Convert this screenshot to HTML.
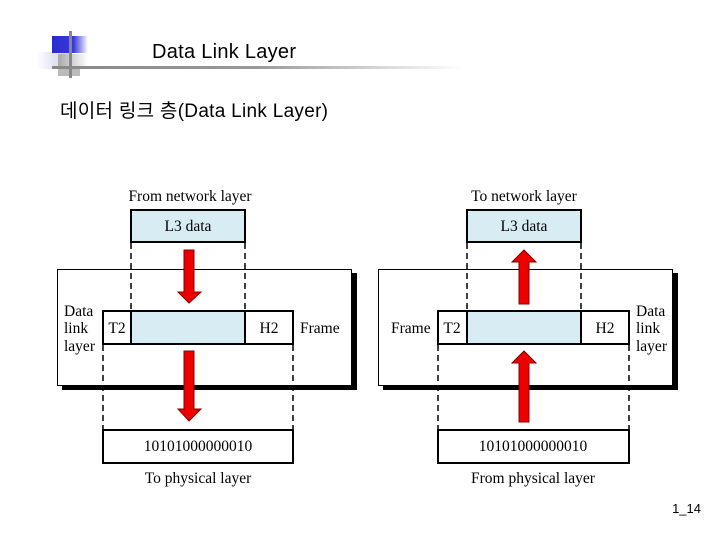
<!DOCTYPE html>
<html><head><meta charset="utf-8"><style>
html,body{margin:0;padding:0;background:#fff;width:720px;height:540px;overflow:hidden}
svg{display:block}
</style></head><body>
<svg width="720" height="540" xmlns="http://www.w3.org/2000/svg">
<defs>
<linearGradient id="gb" x1="0" x2="1"><stop offset="0" stop-color="#2a2ad0"/><stop offset="0.6" stop-color="#3a3ad8"/><stop offset="1" stop-color="#fff"/></linearGradient>
<linearGradient id="gl" x1="0" x2="1"><stop offset="0" stop-color="#fff"/><stop offset="1" stop-color="#c8c8ee"/></linearGradient>
<linearGradient id="gg" x1="0" x2="1"><stop offset="0" stop-color="#888"/><stop offset="0.5" stop-color="#999"/><stop offset="1" stop-color="#fff"/></linearGradient>
<linearGradient id="gs" x1="0" x2="1"><stop offset="0" stop-color="#aaa"/><stop offset="1" stop-color="#fff"/></linearGradient>
</defs>
<rect x="36" y="52" width="36" height="17" fill="url(#gl)"/>
<rect x="52" y="36" width="36" height="17" fill="url(#gb)"/>
<rect x="58" y="54" width="30" height="14" fill="url(#gs)"/>
<rect x="58" y="66" width="22" height="10" fill="#bbb"/>
<rect x="69" y="31" width="3" height="47" fill="#888"/>
<rect x="52" y="66" width="410" height="3" fill="url(#gg)"/>
<text x="152" y="58" font-family="Liberation Sans, sans-serif" font-size="20" fill="#000" textLength="144">Data Link Layer</text>
<text x="60" y="117" font-family="Liberation Sans, 'Noto Sans CJK KR', sans-serif" font-size="19" fill="#000" textLength="268">데이터 링크 층(Data Link Layer)</text>
<text x="701" y="513" text-anchor="end" font-family="Liberation Sans, sans-serif" font-size="13">1_14</text>

<g font-family="Liberation Serif, serif" font-size="15.5" fill="#000">
<rect x="62" y="273" width="295" height="117" fill="#000"/>
<rect x="57.5" y="269.5" width="294" height="116" fill="#fff" stroke="#000" stroke-width="1"/>
<text x="190" y="201" text-anchor="middle">From network layer</text>
<rect x="131" y="210" width="114" height="32" fill="#d8ecf3" stroke="#000" stroke-width="2"/>
<text x="188" y="231" text-anchor="middle">L3 data</text>
<g stroke="#000" stroke-width="1.5" stroke-dasharray="6,4">
<line x1="131" y1="243" x2="131" y2="311"/><line x1="245" y1="243" x2="245" y2="311"/>
<line x1="103" y1="345" x2="103" y2="430"/><line x1="293" y1="345" x2="293" y2="430"/>
</g>
<rect x="103" y="311" width="190" height="33" fill="#fff" stroke="#000" stroke-width="2"/>
<rect x="131" y="311" width="114" height="33" fill="#d8ecf3" stroke="#000" stroke-width="2"/>
<text x="117" y="333" text-anchor="middle">T2</text>
<text x="269" y="333" text-anchor="middle">H2</text>
<text x="300" y="333">Frame</text>
<text x="64" y="316">Data</text><text x="64" y="333">link</text><text x="64" y="351">layer</text>
<polygon points="184,250 194,250 194,292 201,292 189,303 178,292 184,292" fill="#e00" stroke="#800" stroke-width="1"/>
<polygon points="184,351 194,351 194,409 201,409 189,421 178,409 184,409" fill="#e00" stroke="#800" stroke-width="1"/>
<rect x="103" y="430" width="190" height="33" fill="#fff" stroke="#000" stroke-width="2"/>
<text x="198" y="451" text-anchor="middle">10101000000010</text>
<text x="198" y="483" text-anchor="middle">To physical layer</text>

<rect x="383" y="273" width="295" height="117" fill="#000"/>
<rect x="378.5" y="269.5" width="294" height="116" fill="#fff" stroke="#000" stroke-width="1"/>
<text x="524" y="201" text-anchor="middle">To network layer</text>
<rect x="467" y="210" width="114" height="32" fill="#d8ecf3" stroke="#000" stroke-width="2"/>
<text x="524" y="231" text-anchor="middle">L3 data</text>
<g stroke="#000" stroke-width="1.5" stroke-dasharray="6,4">
<line x1="467" y1="243" x2="467" y2="311"/><line x1="581" y1="243" x2="581" y2="311"/>
<line x1="438" y1="345" x2="438" y2="430"/><line x1="629" y1="345" x2="629" y2="430"/>
</g>
<rect x="438" y="311" width="191" height="33" fill="#fff" stroke="#000" stroke-width="2"/>
<rect x="467" y="311" width="114" height="33" fill="#d8ecf3" stroke="#000" stroke-width="2"/>
<text x="452" y="333" text-anchor="middle">T2</text>
<text x="605" y="333" text-anchor="middle">H2</text>
<text x="391" y="333">Frame</text>
<text x="636" y="316">Data</text><text x="636" y="333">link</text><text x="636" y="351">layer</text>
<polygon points="519,304 529,304 529,262 536,262 524,250 512,262 519,262" fill="#e00" stroke="#800" stroke-width="1"/>
<polygon points="519,422 529,422 529,363 536,363 524,351 512,363 519,363" fill="#e00" stroke="#800" stroke-width="1"/>
<rect x="438" y="430" width="191" height="33" fill="#fff" stroke="#000" stroke-width="2"/>
<text x="533" y="451" text-anchor="middle">10101000000010</text>
<text x="533" y="483" text-anchor="middle">From physical layer</text>
</g>
</svg>
</body></html>
